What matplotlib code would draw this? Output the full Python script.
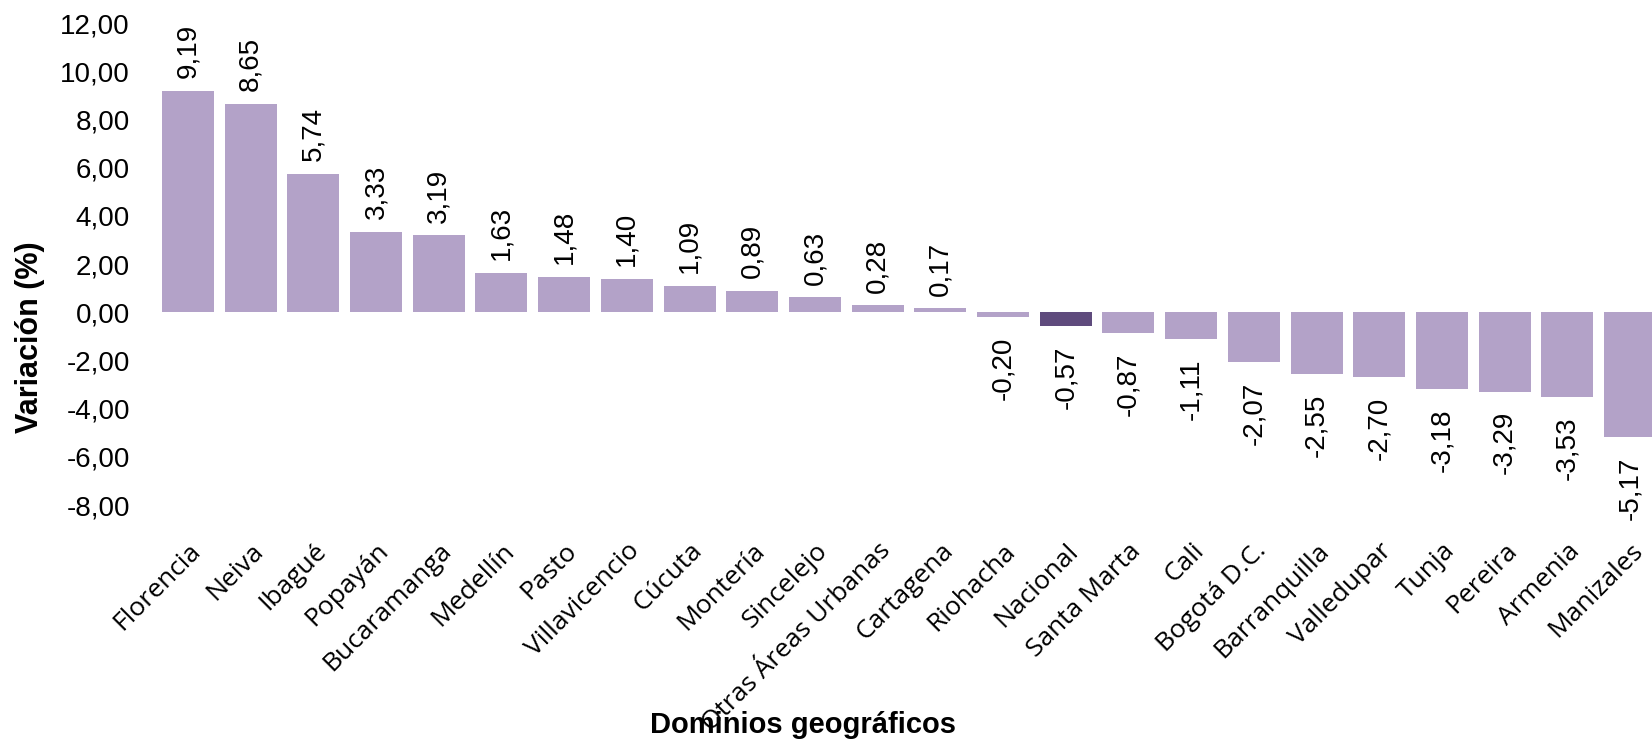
import matplotlib
matplotlib.use('Agg')
import matplotlib.pyplot as plt
import numpy as np

dominios = ['Florencia', 'Neiva', 'Ibagué', 'Popayán', 'Bucaramanga', 'Medellín',
            'Pasto', 'Villavicencio', 'Cúcuta', 'Montería', 'Sincelejo',
            'Otras Áreas Urbanas', 'Cartagena', 'Riohacha', 'Nacional', 'Santa Marta',
            'Cali', 'Bogotá D.C.', 'Barranquilla', 'Valledupar', 'Tunja', 'Pereira',
            'Armenia', 'Manizales']
variacion = [9.19, 8.65, 5.74, 3.33, 3.19, 1.63, 1.48, 1.40, 1.09, 0.89, 0.63,
             0.28, 0.17, -0.20, -0.57, -0.87, -1.11, -2.07, -2.55, -2.70, -3.18,
             -3.29, -3.53, -5.17]
y_ticks = [-8, -6, -4, -2, 0, 2, 4, 6, 8, 10, 12]

color_claro = '#B3A2C8'
color_nacional = '#5F4B7D'

def coma(v):
    return f'{v:.2f}'.replace('.', ',')

fig = plt.figure(figsize=(16.52, 7.44), dpi=100)
ax = fig.add_axes([0.0929, 0.3212, 0.9071, 0.6478])

x = np.arange(len(dominios))
colores = [color_nacional if d == 'Nacional' else color_claro for d in dominios]
bars = ax.bar(x, variacion, width=0.83, color=colores)

# etiquetas de valor, giradas
for xi, v in zip(x, variacion):
    if v >= 0:
        ax.annotate(coma(v), (xi, v), xytext=(0, 9), textcoords='offset points',
                    rotation=90, ha='center', va='bottom', fontsize=20,
                    family='Liberation Sans', annotation_clip=False)
    else:
        ax.annotate(coma(v), (xi, v), xytext=(0, -14), textcoords='offset points',
                    rotation=90, ha='center', va='top', fontsize=20,
                    family='Liberation Sans', annotation_clip=False)

ax.set_xlim(-0.55, 23.35)
ax.set_ylim(-8, 12)
ax.set_yticks(y_ticks)
ax.set_yticklabels([coma(t) for t in y_ticks], family='Liberation Sans', fontsize=20)
ax.set_xticks(x)
ax.set_xticklabels(dominios, rotation=45, ha='right', rotation_mode='anchor',
                   family='Open Sans', fontsize=19)
ax.tick_params(axis='both', length=0)
ax.tick_params(axis='x', pad=24)
ax.tick_params(axis='y', pad=17)
for s in ax.spines.values():
    s.set_visible(False)

fig.text(0.486, 0.0255, 'Dominios geográficos', ha='center', va='center',
         fontsize=21, fontweight='bold', family='Liberation Sans')
fig.text(0.018, 0.547, 'Variación (%)', ha='center', va='center', rotation=90,
         fontsize=22, fontweight='bold', family='Liberation Sans')

fig.savefig('out.png', dpi=100)
